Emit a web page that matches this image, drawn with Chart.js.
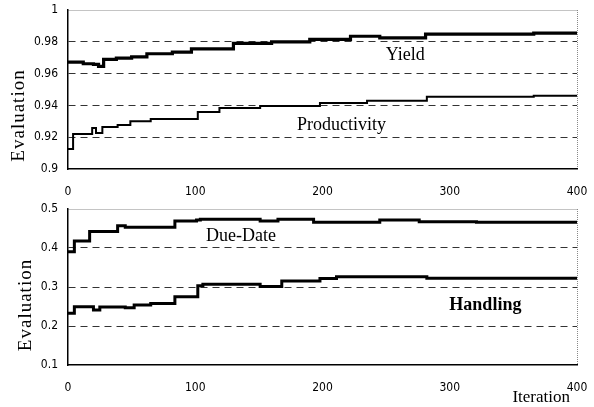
<!DOCTYPE html>
<html lang="en">
<head>
    <meta charset="UTF-8">
    <title>Evaluation vs Iteration</title>
    <script src="https://cdn.jsdelivr.net/npm/chart.js"></script>
    <style>
        body { margin: 0; background: #fff; }
        .panel { position: absolute; left: 0; }
        #topPanel { top: 0; }
        #bottomPanel { top: 195px; }
    </style>
</head>
<body>
    <div id="topPanel" class="panel"><canvas id="topChart" width="594" height="195"></canvas></div>
    <div id="bottomPanel" class="panel"><canvas id="bottomChart" width="594" height="212"></canvas></div>

    <script>
        // x ticks (iteration)
        const iterTicks = [0, 100, 200, 300, 400];

        // upper panel: change points [iteration, evaluation]
        const yieldPts = [
            [0, 0.9672], [12, 0.9662], [20, 0.9658], [24, 0.9645], [28, 0.969], [38, 0.9697],
            [50, 0.9705], [62, 0.9725], [82, 0.9735], [97, 0.9755], [130, 0.979], [160, 0.980],
            [190, 0.9815], [222, 0.9835], [245, 0.9825], [281, 0.9848], [366, 0.9855], [400, 0.9855]
        ];
        const productivityPts = [
            [0, 0.9126], [4, 0.922], [19, 0.9258], [22, 0.9226], [27, 0.9264], [39, 0.9277],
            [49, 0.930], [65, 0.9315], [102, 0.9358], [119, 0.9384], [151, 0.9396], [198, 0.9415],
            [235, 0.943], [282, 0.9455], [366, 0.9461], [400, 0.9461]
        ];
        const topTicks = [0.9, 0.92, 0.94, 0.96, 0.98, 1];

        // lower panel
        const dueDatePts = [
            [0, 0.3905], [5, 0.418], [17, 0.442], [39, 0.457], [45, 0.453], [84, 0.469],
            [101, 0.472], [104, 0.474], [151, 0.469], [165, 0.4735], [193, 0.466], [245, 0.472],
            [276, 0.467], [321, 0.466], [400, 0.466]
        ];
        const handlingPts = [
            [0, 0.2326], [5, 0.2495], [20, 0.241], [25, 0.249], [45, 0.247], [52, 0.254],
            [65, 0.258], [84, 0.275], [102, 0.303], [106, 0.307], [151, 0.301], [168, 0.3155],
            [198, 0.322], [211, 0.3265], [282, 0.3225], [400, 0.3225]
        ];
        const bottomTicks = [0.1, 0.2, 0.3, 0.4, 0.5];

        // series names and where they sit (in data units)
        const topLabels = [
            { text: 'Yield', at: [265, 0.9716] },
            { text: 'Productivity', at: [215, 0.9277] }
        ];
        const bottomLabels = [
            { text: 'Due-Date', at: [136, 0.429] },
            { text: 'Handling', at: [328, 0.252], bold: true }
        ];

        const tickFont = { family: '"DejaVu Sans", Arial, sans-serif', size: 12, weight: 'condensed' };
        const serif = '"Liberation Serif", "Times New Roman", serif';

        // draws the free text: series names, axis titles
        const notesPlugin = {
            id: 'notes',
            afterDraw(chart, args, opts) {
                const { ctx, chartArea, scales } = chart;
                ctx.save();
                ctx.fillStyle = '#000';
                ctx.textAlign = 'center';
                ctx.textBaseline = 'middle';
                (opts.labels || []).forEach(l => {
                    ctx.font = (l.bold ? 'bold ' : '') + '18px ' + serif;
                    ctx.fillText(l.text, scales.x.getPixelForValue(l.at[0]), scales.y.getPixelForValue(l.at[1]));
                });
                // y title
                ctx.save();
                ctx.font = '19px ' + serif;
                ctx.letterSpacing = '1px';
                ctx.translate(opts.yTitleX, (chartArea.top + chartArea.bottom) / 2 + opts.yTitleShift);
                ctx.rotate(-Math.PI / 2);
                ctx.fillText('Evaluation', 0, 0);
                ctx.restore();
                if (opts.xTitle) {
                    ctx.font = '17px ' + serif;
                    ctx.textAlign = 'right';
                    ctx.fillText(opts.xTitle, chartArea.right - 7, chartArea.bottom + 33);
                }
                ctx.restore();
            }
        };

        function lineSet(pts, width) {
            return {
                data: pts.map(p => ({ x: p[0], y: p[1] })),
                borderColor: '#000',
                borderWidth: width,
                pointRadius: 0,
                stepped: true,
                fill: false
            };
        }

        function makeChart(id, sets, yTicks, labels, pad, xHeight, extra) {
            const yMin = yTicks[0], yMax = yTicks[yTicks.length - 1];
            return new Chart(document.getElementById(id), {
                type: 'line',
                data: { datasets: sets },
                options: {
                    responsive: false,
                    animation: false,
                    layout: { padding: { top: pad, right: 17, left: 0, bottom: 0 } },
                    plugins: {
                        legend: { display: false },
                        tooltip: { enabled: false },
                        notes: Object.assign({ labels: labels }, extra)
                    },
                    scales: {
                        x: {
                            type: 'linear', min: 0, max: 400,
                            afterBuildTicks: s => { s.ticks = iterTicks.map(v => ({ value: v })); },
                            ticks: { font: tickFont, color: '#000', padding: 16, maxRotation: 0 },
                            // only the right edge of the frame, dotted
                            grid: {
                                color: c => (c.tick && c.tick.value === 400) ? '#888' : 'rgba(0,0,0,0)',
                                drawTicks: false
                            },
                            border: { color: '#000', width: 1.5, dash: [1, 1] },
                            afterFit: s => { s.height = xHeight; s.paddingLeft = 0; s.paddingRight = 0; }
                        },
                        y: {
                            min: yMin, max: yMax,
                            afterBuildTicks: s => { s.ticks = yTicks.map(v => ({ value: v })); },
                            ticks: { font: tickFont, color: '#000', padding: 10, callback: v => String(+v.toFixed(2)) },
                            grid: {
                                color: c => {
                                    if (!c.tick || c.tick.value === yMin) return 'rgba(0,0,0,0)';
                                    return c.tick.value === yMax ? '#888' : '#333';
                                },
                                lineWidth: 1,
                                drawTicks: false
                            },
                            border: {
                                color: '#000', width: 1.5,
                                dash: c => (c.tick && c.tick.value === yMax) ? [1, 1] : [7, 5]
                            },
                            afterFit: s => { s.width = 68; s.paddingTop = 0; s.paddingBottom = 0; }
                        }
                    }
                },
                plugins: [notesPlugin]
            });
        }

        makeChart('topChart',
            [lineSet(yieldPts, 3.2), lineSet(productivityPts, 2)],
            topTicks, topLabels, 10, 26,
            { yTitleX: 19, yTitleShift: 26 });

        makeChart('bottomChart',
            [lineSet(dueDatePts, 3), lineSet(handlingPts, 3)],
            bottomTicks, bottomLabels, 14, 42,
            { yTitleX: 26, yTitleShift: 18, xTitle: 'Iteration' });
    </script>
</body>
</html>
